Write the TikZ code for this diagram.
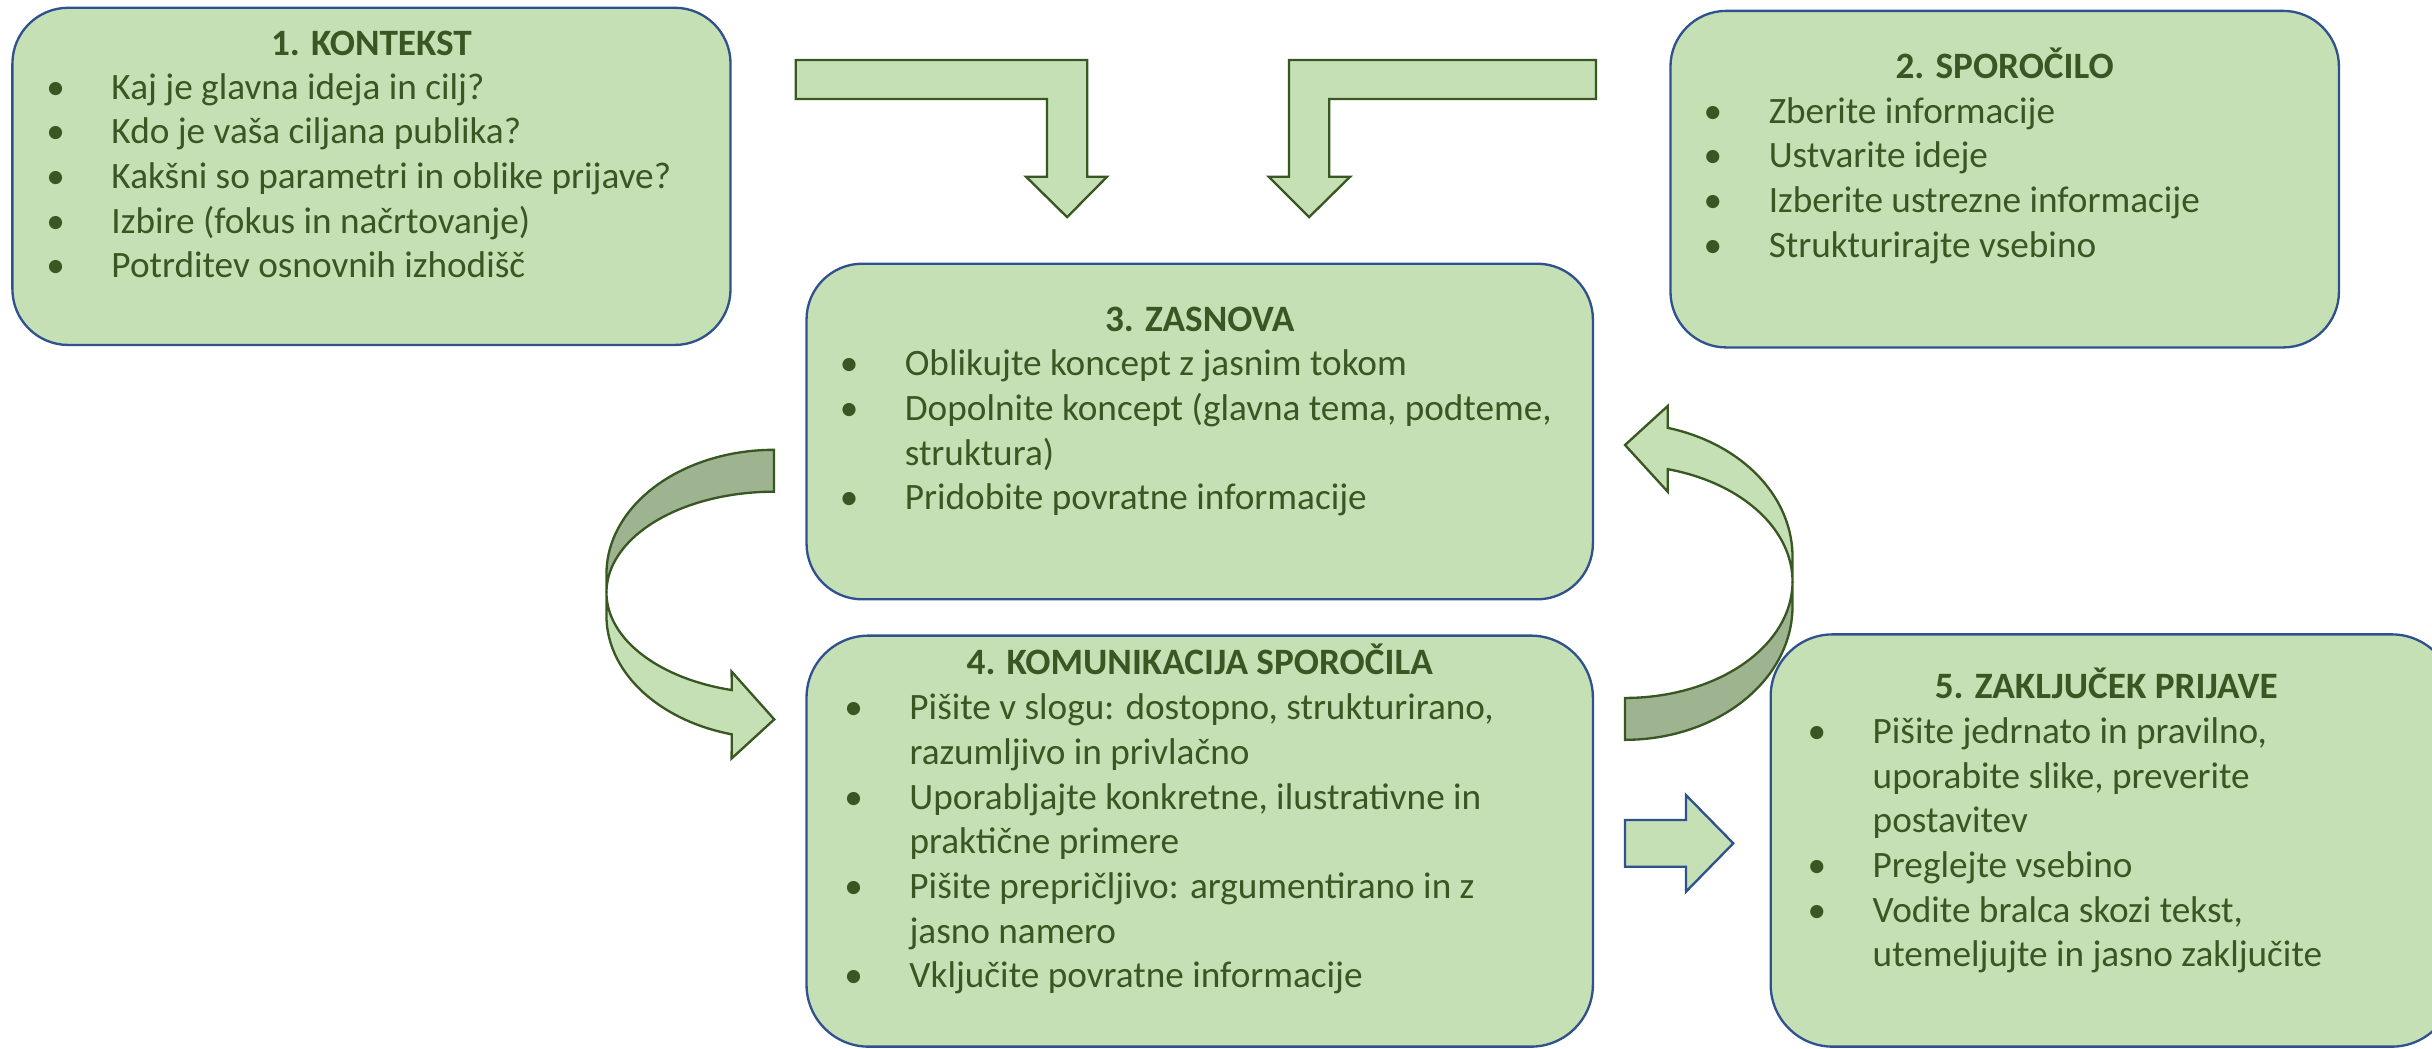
\documentclass[tikz,border=0pt]{standalone}
\usepackage{fontspec}
\setmainfont{Carlito}
\definecolor{boxfill}{HTML}{C5E0B4}
\definecolor{boxblue}{HTML}{2F528F}
\definecolor{arrgreen}{HTML}{385723}
\definecolor{darkfill}{HTML}{9EB390}
\definecolor{txt}{HTML}{385723}
\newcommand{\bl}{\makebox[18pt][l]{\makebox[0pt]{•}}}
\newcommand{\ind}{\hspace*{18pt}}
\begin{document}
\begin{tikzpicture}[x=0.5pt,y=-0.5pt,
  box/.style={draw=boxblue, fill=boxfill, line width=0.75pt, rounded corners=18pt, inner sep=0pt, outer sep=0pt, anchor=north west},
  ttl/.style={anchor=base, inner sep=0pt, font=\fontsize{12pt}{14.4pt}\selectfont\bfseries, text=txt},
  lst/.style={anchor=base west, inner sep=0pt, font=\fontsize{12pt}{14.4pt}\selectfont, text=txt},
  blk/.style={draw=arrgreen, fill=boxfill, line width=0.75pt},
  blkblue/.style={draw=boxblue, fill=boxfill, line width=0.75pt},
  dark/.style={draw=arrgreen, fill=darkfill, line width=0.75pt}]
\useasboundingbox (0,0) rectangle (1568,676);
\clip (0,0) rectangle (1568,676);

% boxes
\node[box, minimum width=231.5pt, minimum height=108.7pt] (b1) at (8,5) {};
\node[box, minimum width=215.5pt, minimum height=108.5pt] (b2) at (1077,7) {};
\node[box, minimum width=253.5pt, minimum height=108.2pt] (b3) at (520,170) {};
\node[box, rounded corners=20pt, minimum width=253.5pt, minimum height=132.5pt] (b4) at (520,409.8) {};
\node[box, rounded corners=20pt, minimum width=220.2pt, minimum height=132.9pt] (b5) at (1141.6,409) {};

% titles
\node[ttl] (t1) at (239.5,35.5) {1. KONTEKST};
\node[ttl] (t2) at (1292.5,50.5) {2. SPOROČILO};
\node[ttl] (t3) at (773.5,213.8) {3. ZASNOVA};
\node[ttl] (t4) at (773.5,435) {4. KOMUNIKACIJA SPOROČILA};
\node[ttl] (t5) at (1358,450.3) {5. ZAKLJUČEK PRIJAVE};

% lists
\node[lst] (l1) at (35.5,64) {\begin{tabular}[t]{@{}l@{}}
\bl Kaj je glavna ideja in cilj?\\
\bl Kdo je vaša ciljana publika?\\
\bl Kakšni so parametri in oblike prijave?\\
\bl Izbire (fokus in načrtovanje)\\
\bl Potrditev osnovnih izhodišč
\end{tabular}};
\node[lst] (l2) at (1104,79.5) {\begin{tabular}[t]{@{}l@{}}
\bl Zberite informacije\\
\bl Ustvarite ideje\\
\bl Izberite ustrezne informacije\\
\bl Strukturirajte vsebino
\end{tabular}};
\node[lst] (l3) at (547,242.4) {\begin{tabular}[t]{@{}l@{}}
\bl Oblikujte koncept z jasnim tokom\\
\bl Dopolnite koncept (glavna tema, podteme,\\
\ind struktura)\\
\bl Pridobite povratne informacije
\end{tabular}};
\node[lst] (l4) at (550,464) {\begin{tabular}[t]{@{}l@{}}
\bl Pišite v slogu: dostopno, strukturirano,\\
\ind razumljivo in privlačno\\
\bl Uporabljajte konkretne, ilustrativne in\\
\ind praktične primere\\
\bl Pišite prepričljivo: argumentirano in z\\
\ind jasno namero\\
\bl Vključite povratne informacije
\end{tabular}};
\node[lst] (l5) at (1171,479.3) {\begin{tabular}[t]{@{}l@{}}
\bl Pišite jedrnato in pravilno,\\
\ind uporabite slike, preverite\\
\ind postavitev\\
\bl Preglejte vsebino\\
\bl Vodite bralca skozi tekst,\\
\ind utemeljujte in jasno zaključite
\end{tabular}};

% bent arrows at top
\draw[blk] (513,38.7) -- (701,38.7) -- (701,113.9) -- (713.8,113.9) -- (688,140)
  -- (661.5,113.9) -- (675,113.9) -- (675,63.8) -- (513,63.8) -- cycle;
\draw[blk] (1029,38.7) -- (831,38.7) -- (831,113.9) -- (818,113.9) -- (844,140)
  -- (870.5,113.9) -- (857,113.9) -- (857,63.8) -- (1029,63.8) -- cycle;

% curved arrow left (3 -> 4)
\draw[dark] plot[domain=-90:-180, samples=40, variable=\t] ({499+108*cos(\t)},{370+80*sin(\t)})
  -- (391,382)
  -- plot[domain=180:270, samples=40, variable=\t] ({499+108*cos(\t)},{382+65*sin(\t)}) -- cycle;
\draw[blk] (391,382) -- (391,397)
  -- plot[domain=180:104.6, samples=40, variable=\t] ({499+108*cos(\t)},{397+79*sin(\t)})
  -- (471.7,489) -- (499.2,463.8) -- (471.7,433)
  -- plot[domain=104.6:180, samples=40, variable=\t] ({499+108*cos(\t)},{382+65*sin(\t)}) -- cycle;

% curved arrow right (4 -> 3)
\draw[dark] plot[domain=90:0, samples=40, variable=\t] ({1047.7+108*cos(\t)},{391+86*sin(\t)})
  -- (1155.7,375)
  -- plot[domain=0:90, samples=40, variable=\t] ({1047.7+108*cos(\t)},{375+75*sin(\t)}) -- cycle;
\draw[blk] (1155.7,375) -- (1155.7,359)
  -- plot[domain=0:-75.25, samples=40, variable=\t] ({1047.7+108*cos(\t)},{359+86*sin(\t)})
  -- (1075.2,261.8) -- (1047.7,286.9) -- (1075.2,317)
  -- plot[domain=-75.25:0, samples=40, variable=\t] ({1047.7+108*cos(\t)},{375+75*sin(\t)}) -- cycle;

% straight arrow 4 -> 5
\draw[blkblue] (1047.7,528.7) -- (1087,528.7) -- (1087,512.6) -- (1117.5,543.7)
  -- (1087,574.9) -- (1087,558.8) -- (1047.7,558.8) -- cycle;
\end{tikzpicture}
\end{document}
